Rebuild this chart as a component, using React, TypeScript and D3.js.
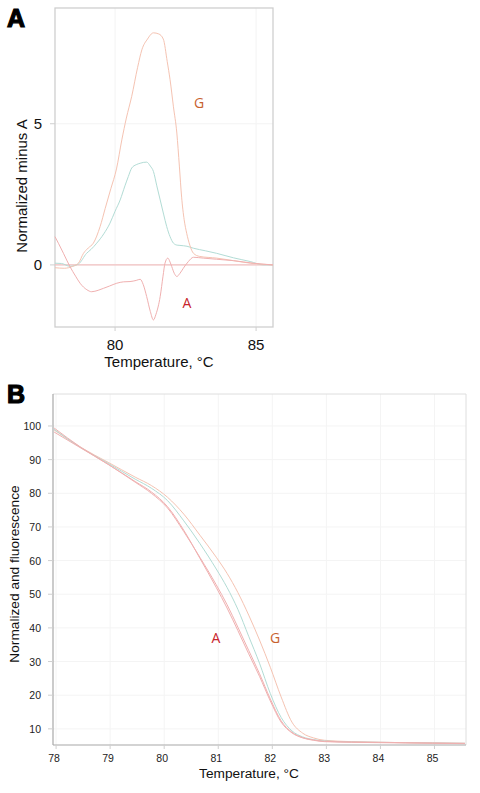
import React from "react";
import * as d3 from "d3";

// ---------- Panel A data: Normalized minus A ----------
const aGT = [77.87, 78.2, 78.5, 78.7, 78.88, 79.05, 79.23, 79.47, 79.65, 79.85, 80.05, 80.24, 80.4, 80.59, 80.8, 80.95, 81.15, 81.36, 81.55, 81.71, 81.85, 81.95, 82.07, 82.19, 82.28, 82.36, 82.45, 82.54, 82.65, 82.78, 83.0, 83.6, 84.2, 84.8, 85.6];
const aGV = [-0.1, -0.12, -0.05, 0.06, 0.41, 0.6, 0.77, 1.36, 2.0, 2.7, 3.4, 4.43, 5.2, 5.97, 7.0, 7.62, 8.0, 8.22, 8.18, 8.0, 7.2, 6.56, 5.6, 4.67, 3.5, 2.4, 1.6, 1.12, 0.7, 0.41, 0.3, 0.24, 0.15, 0.06, 0.0];

const aTealT = [77.87, 78.1, 78.4, 78.7, 78.99, 79.15, 79.35, 79.6, 79.82, 80.0, 80.18, 80.35, 80.47, 80.59, 80.75, 80.89, 81.0, 81.12, 81.25, 81.36, 81.48, 81.6, 81.72, 81.83, 81.95, 82.07, 82.2, 82.3, 82.55, 82.78, 83.2, 83.6, 84.2, 84.79, 85.26, 85.6];
const aTealV = [0.06, 0.05, -0.05, 0.03, 0.41, 0.55, 0.77, 1.1, 1.48, 1.9, 2.3, 2.8, 3.13, 3.43, 3.55, 3.6, 3.63, 3.64, 3.5, 3.31, 2.8, 2.3, 1.8, 1.36, 1.0, 0.77, 0.7, 0.69, 0.66, 0.59, 0.5, 0.41, 0.25, 0.12, 0.0, 0.0];

const aDipT = [77.87, 78.0, 78.17, 78.4, 78.6, 78.76, 79.0, 79.17, 79.4, 79.59, 79.8, 80.06, 80.3, 80.53, 80.75, 80.89, 81.0, 81.12, 81.25, 81.36, 81.45, 81.6, 81.7, 81.77, 81.87, 81.95, 82.01, 82.1, 82.19, 82.3, 82.42, 82.6, 82.78, 83.13, 83.6, 84.2, 84.9, 85.6];
const aDipV = [1.0, 0.75, 0.41, -0.06, -0.4, -0.65, -0.88, -0.95, -0.9, -0.83, -0.75, -0.65, -0.6, -0.59, -0.55, -0.51, -0.7, -1.12, -1.65, -1.95, -1.75, -1.12, -0.4, 0.06, 0.24, 0.1, -0.06, -0.3, -0.41, -0.3, -0.12, 0.12, 0.27, 0.24, 0.2, 0.15, 0.06, 0.0];

const aRefT = [77.87, 85.6];
const aRefV = [0, 0];

const aXTicks = [80, 85];
const aYTicks = [0, 5];

// ---------- Panel B data: Normalized fluorescence ----------
const bT = [78, 78.5, 79, 79.5, 79.8, 80.1, 80.4, 80.7, 81.0, 81.2, 81.4, 81.6, 81.8, 82.0, 82.2, 82.4, 82.6, 82.8, 83.0, 83.5, 84.0, 84.5, 85.0, 85.6];
const bA1 = [98.2, 93.4, 88.6, 83.5, 80.4, 76.0, 69.0, 60.6, 52.0, 45.9, 39.2, 32.3, 25.6, 18.3, 12.0, 8.8, 7.3, 6.6, 6.2, 6.0, 5.9, 5.8, 5.7, 5.6];
const bA2 = [99.4, 93.6, 88.6, 83.3, 80.0, 75.6, 68.6, 60.9, 52.8, 46.9, 40.2, 33.3, 26.4, 18.9, 12.4, 9.0, 7.4, 6.7, 6.3, 6.1, 6.0, 5.9, 5.8, 5.7];
const bTeal = [99.0, 93.5, 88.9, 84.2, 81.5, 77.8, 71.8, 65.0, 57.5, 52.0, 45.5, 37.5, 29.5, 20.5, 13.4, 9.4, 7.6, 6.8, 6.4, 6.1, 6.0, 5.9, 5.8, 5.7];
const bG = [98.8, 93.6, 89.2, 84.8, 82.3, 78.8, 73.8, 67.5, 61.0, 56.2, 50.5, 43.8, 36.4, 28.3, 19.5, 12.0, 8.7, 7.3, 6.6, 6.2, 6.0, 5.9, 5.8, 5.7];

const bXTicks = [78, 79, 80, 81, 82, 83, 84, 85];
const bYTicks = [10, 20, 30, 40, 50, 60, 70, 80, 90, 100];

const C_RED = "#f0b0b0";
const C_TEAL = "#b2dcd5";
const C_ORANGE = "#f5c3b2";
const C_ZERO = "#f2c0c0";

const zip = (t: number[], v: number[]) => t.map((x, i) => [x, v[i]] as [number, number]);

export default function App() {
  // Panel A geometry
  const aL = 55, aR = 273, aT = 8, aB = 327;
  const ax = d3.scaleLinear().domain([77.87, 85.6]).range([aL, aR]);
  const ay = d3.scaleLinear().domain([-2.2, 9.1]).range([aB, aT]);
  const aLine = d3.line<[number, number]>().x(d => ax(d[0])).y(d => ay(d[1])).curve(d3.curveMonotoneX);

  // Panel B geometry
  const bL = 53, bR = 466, bTop = 394, bBot = 745;
  const bx = d3.scaleLinear().domain([77.98, 85.62]).range([bL, bR]);
  const by = d3.scaleLinear().domain([5.2, 109.5]).range([bBot, bTop]);
  const bLine = d3.line<[number, number]>().x(d => bx(d[0])).y(d => by(d[1])).curve(d3.curveMonotoneX);

  const arial = "Liberation Sans, Arial, sans-serif";
  const lab = "Open Sans, Noto Sans, sans-serif";

  return (
    <svg width={480} height={793} style={{ position: "absolute", left: 0, top: 0, background: "#fff" }}>
      <rect x={0} y={0} width={480} height={793} fill="#fff" />

      {/* ===== Panel A ===== */}
      <text x={7} y={27} fontFamily={arial} fontWeight={900} fontSize={25} stroke="#000" strokeWidth={1.2} fill="#000">A</text>
      {aXTicks.map(t => (
        <line key={"agx" + t} x1={ax(t)} x2={ax(t)} y1={aT} y2={aB} stroke="#f3f3f3" strokeWidth={1} />
      ))}
      {aYTicks.map(v => (
        <line key={"agy" + v} x1={aL} x2={aR} y1={ay(v)} y2={ay(v)} stroke="#f3f3f3" strokeWidth={1} />
      ))}
      <rect x={aL} y={aT} width={aR - aL} height={aB - aT} fill="none" stroke="#cfcfcf" strokeWidth={1.3} />
      <path d={aLine(zip(aRefT, aRefV)) || ""} fill="none" stroke={C_ZERO} strokeWidth={1.2} />
      <path d={aLine(zip(aTealT, aTealV)) || ""} fill="none" stroke={C_TEAL} strokeWidth={1} />
      <path d={aLine(zip(aGT, aGV)) || ""} fill="none" stroke={C_ORANGE} strokeWidth={1} />
      <path d={aLine(zip(aDipT, aDipV)) || ""} fill="none" stroke={C_RED} strokeWidth={1} />
      {aYTicks.map(v => (
        <g key={"ayt" + v}>
          <line x1={aL - 5} x2={aL} y1={ay(v)} y2={ay(v)} stroke="#cfcfcf" />
          <text x={aL - 13} y={ay(v) + 5} textAnchor="end" fontFamily={arial} fontSize={15} fill="#111">{v}</text>
        </g>
      ))}
      {aXTicks.map(t => (
        <g key={"axt" + t}>
          <line x1={ax(t)} x2={ax(t)} y1={aB} y2={aB + 4} stroke="#cfcfcf" />
          <text x={ax(t)} y={aB + 23} textAnchor="middle" fontFamily={arial} fontSize={15} fill="#111">{t}</text>
        </g>
      ))}
      <text x={159} y={367} textAnchor="middle" fontFamily={arial} fontSize={15} fill="#111">Temperature, °C</text>
      <text transform={`translate(27,186) rotate(-90)`} textAnchor="middle" fontFamily={arial} fontSize={15} fill="#111">Normalized minus A</text>
      <text x={199} y={108} textAnchor="middle" fontFamily={lab} fontSize={14} fill="#c8612e">G</text>
      <text x={187} y={308} textAnchor="middle" fontFamily={lab} fontSize={14} fill="#c8252c">A</text>

      {/* ===== Panel B ===== */}
      <text x={7} y={403} fontFamily={arial} fontWeight={900} fontSize={25} stroke="#000" strokeWidth={1.2} fill="#000">B</text>
      {bXTicks.map(t => (
        <line key={"bgx" + t} x1={bx(t) + 2} x2={bx(t) + 2} y1={bTop} y2={bBot} stroke="#f4f4f4" strokeWidth={1} />
      ))}
      {bYTicks.map(v => (
        <line key={"bgy" + v} x1={bL} x2={bR} y1={by(v)} y2={by(v)} stroke="#f4f4f4" strokeWidth={1} />
      ))}
      <line x1={bL} x2={bR} y1={bTop} y2={bTop} stroke="#dedede" strokeWidth={1} />
      <line x1={bR} x2={bR} y1={bTop} y2={bBot} stroke="#dedede" strokeWidth={1} />
      <path d={bLine(zip(bT, bG)) || ""} fill="none" stroke={C_ORANGE} strokeWidth={1} />
      <path d={bLine(zip(bT, bTeal)) || ""} fill="none" stroke={C_TEAL} strokeWidth={1} />
      <path d={bLine(zip(bT, bA1)) || ""} fill="none" stroke={C_RED} strokeWidth={1} />
      <path d={bLine(zip(bT, bA2)) || ""} fill="none" stroke={C_RED} strokeWidth={1} />
      <line x1={bL} x2={bL} y1={bTop} y2={bBot} stroke="#a8a8a8" strokeWidth={1.2} />
      <line x1={bL} x2={bR} y1={bBot} y2={bBot} stroke="#a8a8a8" strokeWidth={1.2} />
      {bYTicks.map(v => (
        <g key={"byt" + v}>
          <line x1={bL - 5} x2={bL} y1={by(v)} y2={by(v)} stroke="#cfcfcf" />
          <text x={41} y={by(v) + 4} textAnchor="end" fontFamily={arial} fontSize={10.5} fill="#222">{v}</text>
        </g>
      ))}
      {bXTicks.map(t => (
        <g key={"bxt" + t}>
          <line x1={bx(t) + 2} x2={bx(t) + 2} y1={bBot} y2={bBot + 4} stroke="#cfcfcf" />
          <text x={bx(t)} y={bBot + 16.5} textAnchor="middle" fontFamily={arial} fontSize={10.5} fill="#222">{t}</text>
        </g>
      ))}
      <text x={249} y={778} textAnchor="middle" fontFamily={arial} fontSize={13.7} fill="#111">Temperature, °C</text>
      <text transform={`translate(19,574) rotate(-90)`} textAnchor="middle" fontFamily={arial} fontSize={13.7} fill="#111">Normalized and fluorescence</text>
      <text x={216} y={643} textAnchor="middle" fontFamily={lab} fontSize={14} fill="#c8252c">A</text>
      <text x={275} y={643} textAnchor="middle" fontFamily={lab} fontSize={14} fill="#c8612e">G</text>
    </svg>
  );
}
